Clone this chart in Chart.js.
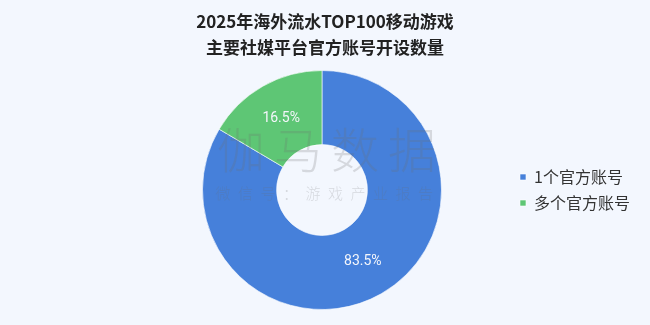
<!DOCTYPE html>
<html>
<head>
<meta charset="utf-8">
<script src="https://cdn.jsdelivr.net/npm/chart.js@4/dist/chart.umd.min.js"></script>
<style>
  html, body { margin: 0; padding: 0; background: #f3f7fe; }
  #wrap { width: 650px; height: 325px; position: relative; }
</style>
</head>
<body>
<div id="wrap"><canvas id="pie_chart" width="650" height="325"></canvas></div>
<script>
var labels = ["1个官方账号", "多个官方账号"];
var values = [83.5, 16.5];
var colors = ['#4680da', '#5ec675'];

var font = '"Noto Sans CJK SC", "Noto Sans", sans-serif';

// watermark + percent labels
var sliceLabels = {
  id: 'sliceLabels',
  afterLayout: function(chart) {
    // keep the title centred on the whole canvas, not the padded area
    var t = chart.titleBlock;
    if (t) { t.left = 0; t.right = chart.width; }
  },
  afterDatasetsDraw: function(chart) {
    var ctx = chart.ctx;
    var meta = chart.getDatasetMeta(0);
    var arc = meta.data[0];
    ctx.save();
    ctx.fillStyle = 'rgba(110,110,110,0.22)';
    ctx.textAlign = 'center';
    ctx.textBaseline = 'middle';
    ctx.font = '300 48px ' + font;
    if (ctx.letterSpacing !== undefined) ctx.letterSpacing = '9px';
    ctx.fillText('伽马数据', arc.x + 9, arc.y - 40);
    ctx.font = '300 15px ' + font;
    if (ctx.letterSpacing !== undefined) ctx.letterSpacing = '7.5px';
    ctx.fillText('微信号：游戏产业报告', arc.x + 6, arc.y + 3);
    ctx.restore();

    ctx.save();
    ctx.fillStyle = '#f4f6fb';
    ctx.font = '14px Roboto, ' + font;
    ctx.textAlign = 'center';
    ctx.textBaseline = 'middle';
    meta.data.forEach(function(el, i) {
      var p = el.tooltipPosition();
      ctx.fillText(values[i].toFixed(1) + '%', p.x, p.y);
    });
    ctx.restore();
  }
};

var ctx = document.getElementById("pie_chart").getContext("2d");
new Chart(ctx, {
  type: 'doughnut',
  data: {
    labels: labels,
    datasets: [{
      data: values,
      backgroundColor: colors,
      borderColor: 'rgba(255,255,255,0.6)',
      borderWidth: 1
    }]
  },
  options: {
    responsive: false,
    animation: false,
    cutout: '38%',
    layout: { padding: { left: 134, right: 10, top: 0, bottom: 15 } },
    plugins: {
      title: {
        display: true,
        text: ['2025年海外流水TOP100移动游戏', '主要社媒平台官方账号开设数量'],
        color: '#222',
        font: { family: font, size: 17, weight: 'bold', lineHeight: 1.53 },
        padding: { top: 9, bottom: 9 }
      },
      legend: {
        position: 'right',
        fullSize: false,
        labels: {
          boxWidth: 6,
          boxHeight: 6,
          padding: 10,
          color: '#333',
          font: { family: font, size: 16 }
        }
      },
      tooltip: { enabled: false }
    }
  },
  plugins: [sliceLabels]
});
</script>
</body>
</html>
